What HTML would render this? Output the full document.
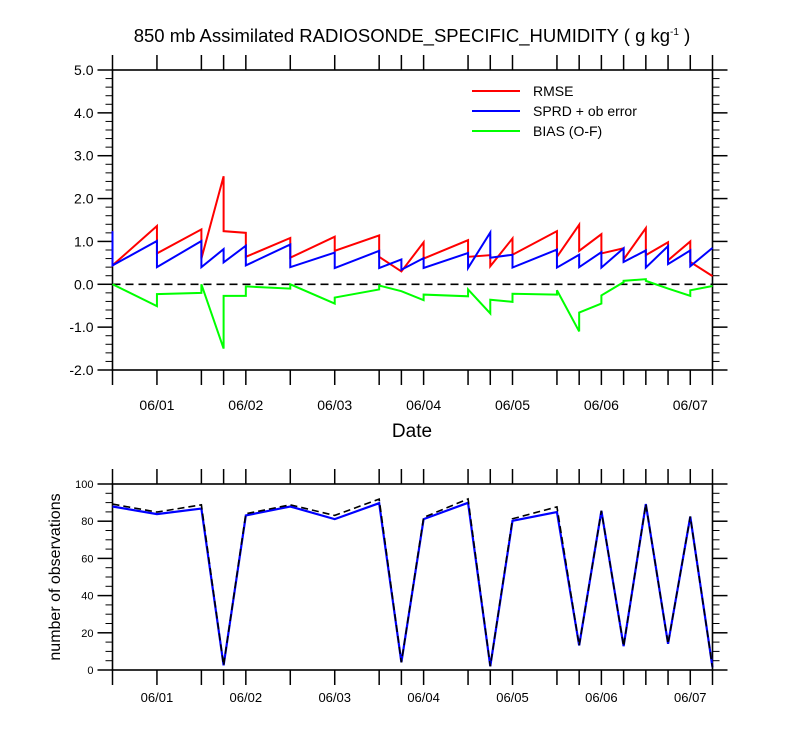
<!DOCTYPE html>
<html><head><meta charset="utf-8">
<style>
html,body{margin:0;padding:0;background:#fff;}
svg{display:block;font-family:"Liberation Sans",Arial,sans-serif;}
</style></head>
<body>
<svg id="chart" width="800" height="750" viewBox="0 0 800 750" xmlns="http://www.w3.org/2000/svg">
<text x="412" y="42" font-size="18.5" text-anchor="middle">850 mb Assimilated RADIOSONDE_SPECIFIC_HUMIDITY ( g kg<tspan font-size="10" dy="-7">-1</tspan><tspan dy="7"> )</tspan></text>
<text x="412" y="437" font-size="19" text-anchor="middle">Date</text>
<text transform="translate(60,577) rotate(-90)" font-size="16" text-anchor="middle">number of observations</text>
<g>
<line x1="472" y1="91" x2="520" y2="91" stroke="#ff0000" stroke-width="2"/>
<text x="533" y="96" font-size="14">RMSE</text>
<line x1="472" y1="111" x2="520" y2="111" stroke="#0000ff" stroke-width="2"/>
<text x="533" y="116" font-size="14">SPRD + ob error</text>
<line x1="472" y1="131" x2="520" y2="131" stroke="#00ff00" stroke-width="2"/>
<text x="533" y="136" font-size="14">BIAS (O-F)</text>
</g>
<g id="topPanel"></g>
<g id="botPanel"></g>
</svg>
<script>
// hours since 05/31 12Z
const hours = [0,12,24,30,36,48,60,72,78,84,96,102,108,120,126,132,138,144,150,156,162];
const rmseIn  = [1.24,1.36,1.28,2.52,1.20,1.08,1.11,1.14,0.30,0.98,1.03,0.68,1.07,1.24,1.39,1.17,0.84,1.31,0.98,1.00,0.19];
const rmseOut = [0.44,0.72,0.60,1.24,0.64,0.62,0.78,0.64,0.30,0.60,0.64,0.42,0.69,0.64,0.78,0.72,0.58,0.68,0.56,0.52,0.19];
const sprdIn  = [1.24,1.01,1.01,0.82,0.90,0.93,0.74,0.78,0.58,0.61,0.73,1.21,0.69,0.81,0.69,0.75,0.84,0.79,0.89,0.79,0.85];
const sprdOut = [0.44,0.40,0.40,0.51,0.44,0.40,0.38,0.38,0.34,0.38,0.38,0.62,0.39,0.39,0.40,0.39,0.52,0.39,0.47,0.42,0.85];
const biasIn  = [0,-0.51,-0.20,-1.50,-0.27,-0.10,-0.45,-0.12,-0.16,-0.37,-0.28,-0.68,-0.41,-0.24,-1.10,-0.45,0.05,0.12,-0.10,-0.27,-0.04];
const biasOut = [0,-0.23,0,-0.27,-0.05,0,-0.31,-0.03,-0.16,-0.24,-0.12,-0.36,-0.22,-0.14,-0.66,-0.26,0.08,0.08,-0.10,-0.14,-0.04];
const obsUsed = [87.9,83.8,86.8,2.5,83.1,87.9,81.1,89.7,4.1,81.1,89.9,2,80.2,84.9,13.2,85.6,12.8,89.2,14.1,82.5,1.4];
const obsPoss = [89.2,84.9,88.8,2.5,84,88.8,83.1,91.9,4.1,82,92,2,81.3,87.7,13.2,85.6,12.8,89.2,14.1,82.5,1.4];
const dayLabels = ["06/01","06/02","06/03","06/04","06/05","06/06","06/07"];
const dayHours = [12,36,60,84,108,132,156];
const topTicks = ["-2.0","-1.0","0.0","1.0","2.0","3.0","4.0","5.0"];
const botTicks = ["0","20","40","60","80","100"];

const NS="http://www.w3.org/2000/svg";
const X0=112.5,X1=712.5,H0=0,H1=162;
const xs=h=>X0+(h-H0)/(H1-H0)*(X1-X0);
const TP={y0:70,y1:370,v0:5,v1:-2}, BP={y0:484,y1:670,v0:100,v1:0};
const ys=(p,v)=>p.y0+(p.v0-v)/(p.v0-p.v1)*(p.y1-p.y0);
function mk(parent,tag,attrs){const e=document.createElementNS(NS,tag);for(const k in attrs)e.setAttribute(k,attrs[k]);parent.appendChild(e);return e;}
function line(g,x1,y1,x2,y2,w){return mk(g,'line',{x1,y1,x2,y2,stroke:'#000','stroke-width':w||1.5});}

function frame(g,p,ticks,minorStep,small){
  mk(g,'rect',{x:X0,y:p.y0,width:X1-X0,height:p.y1-p.y0,fill:'none',stroke:'#000','stroke-width':1.6});
  hours.forEach(h=>{const x=xs(h);line(g,x,p.y0,x,p.y0-15);line(g,x,p.y1,x,p.y1+15);});
  const n=ticks.length;
  for(let i=0;i<n;i++){
    const v=parseFloat(ticks[i]);const y=ys(p,v);
    line(g,X0,y,X0-15,y);line(g,X1,y,X1+15,y);
    const t=mk(g,'text',{x:X0-19,y:y+(small?4:5),'font-size':small?11:14,'text-anchor':'end'});
    t.textContent=ticks[i];
    
    
    if(i<n-1){const nv=parseFloat(ticks[i+1]);for(let m=v+minorStep;m<nv-1e-6;m+=minorStep){const ym=ys(p,m);line(g,X0,ym,X0-7,ym,1);line(g,X1,ym,X1+7,ym,1);}}
  }
  dayHours.forEach((h,i)=>{const t=mk(g,'text',{x:xs(h),y:p.y1+(small?32:40),'font-size':small?13:14,'text-anchor':'middle'});t.textContent=dayLabels[i];
    
    });
}
function saw(g,p,ins,outs,color,name){
  let d='';hours.forEach((h,i)=>{const x=xs(h);d+=(i?'L':'M')+x+','+ys(p,ins[i])+'L'+x+','+ys(p,outs[i]);});
  const e=mk(g,'path',{d,fill:'none',stroke:color,'stroke-width':2,'stroke-linejoin':'miter'});
  
  
}
function poly(g,p,vals,color,dash,name){
  const d=hours.map((h,i)=>(i?'L':'M')+xs(h)+','+ys(p,vals[i])).join('');
  const e=mk(g,'path',{d,fill:'none',stroke:color,'stroke-width':dash?1.6:2.2});
  if(dash)e.setAttribute('stroke-dasharray','7,4');
  
  
}
const topG=document.getElementById('topPanel'),botG=document.getElementById('botPanel');
frame(topG,TP,topTicks,0.2,false);
const zl=line(topG,X0,ys(TP,0),X1,ys(TP,0),1.6);zl.setAttribute('stroke-dasharray','8,5');


saw(topG,TP,biasIn,biasOut,'#00ff00','bias-line');
saw(topG,TP,rmseIn,rmseOut,'#ff0000','rmse-line');
saw(topG,TP,sprdIn,sprdOut,'#0000ff','spread-line');
frame(botG,BP,botTicks,5,true);
poly(botG,BP,obsUsed,'#0000ff',false,'obs-used-line');
poly(botG,BP,obsPoss,'#000',true,'obs-possible-line');
</script>
</body></html>
